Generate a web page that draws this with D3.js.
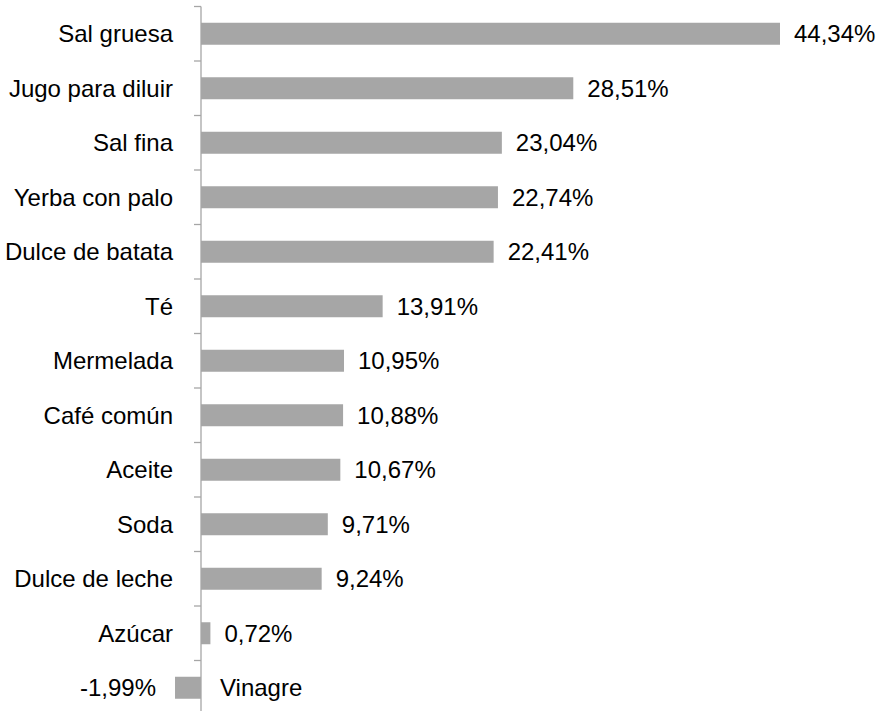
<!DOCTYPE html>
<html lang="es">
    <head>
        <meta charset="utf-8">
        <title>Variación de precios</title>
        <script type="text/javascript" src="https://d3js.org/d3.v7.min.js"></script>
        <style type="text/css">
            body { margin: 0; background: #fff; }
            text { font-family: "Liberation Sans", Arial, sans-serif; font-size: 24px; fill: #000; }
        </style>
    </head>
    <body>
        <div id="chart"></div>
        <script type="text/javascript">

            // productos y variación (%)
            var productos = ["Sal gruesa", "Jugo para diluir", "Sal fina", "Yerba con palo", "Dulce de batata",
                "Té", "Mermelada", "Café común", "Aceite", "Soda", "Dulce de leche", "Azúcar", "Vinagre"];
            var variacion = [44.34, 28.51, 23.04, 22.74, 22.41, 13.91, 10.95, 10.88, 10.67, 9.71, 9.24, 0.72, -1.99];

            var data = productos.map(function(p, i) { return { name: p, value: variacion[i] }; });

            var width = 886, height = 711;

            var svg = d3.select("#chart")
                .append("svg")
                    .attr("width", width)
                    .attr("height", height);

            // X scale: 0 sits on the axis line
            var x = d3.scaleLinear()
                .domain([0, 44.34])
                .range([201, 780]);

            // Y bands
            var y = d3.scaleBand()
                .domain(productos)
                .range([6.5, 6.5 + 54.5 * productos.length])
                .paddingInner(0.6)
                .paddingOuter(0.3);

            var fmt = function(v) { return d3.format(".2f")(v).replace(".", ",").replace("−", "-") + "%"; };

            // bars
            svg.selectAll("rect.bar")
                .data(data)
                .enter().append("rect")
                    .attr("class", "bar")
                    .attr("x", function(d) { return x(Math.min(0, d.value)); })
                    .attr("y", function(d) { return y(d.name) + y.bandwidth() / 2 - 11; })
                    .attr("width", function(d) { return Math.abs(x(d.value) - x(0)); })
                    .attr("height", 22)
                    .attr("fill", "#a6a6a6");

            // vertical axis with tick marks between categories
            var axis = svg.append("g").attr("stroke", "#a6a6a6").attr("stroke-width", 1.3);
            var step = y.step();
            axis.append("line")
                .attr("x1", x(0)).attr("x2", x(0))
                .attr("y1", 6.5).attr("y2", height);
            axis.selectAll("line.tick")
                .data(d3.range(productos.length + 1))
                .enter().append("line")
                    .attr("class", "tick")
                    .attr("x1", x(0) - 7).attr("x2", x(0))
                    .attr("y1", function(i) { return 6.5 + i * step; })
                    .attr("y2", function(i) { return 6.5 + i * step; });

            // category labels
            svg.selectAll("text.cat")
                .data(data)
                .enter().append("text")
                    .attr("class", "cat")
                    .attr("x", function(d) { return d.value < 0 ? x(0) + 19 : x(0) - 28; })
                    .attr("y", function(d) { return y(d.name) + y.bandwidth() / 2; })
                    .attr("dy", "0.35em")
                    .attr("text-anchor", function(d) { return d.value < 0 ? "start" : "end"; })
                    .text(function(d) { return d.name; });

            // value labels
            svg.selectAll("text.val")
                .data(data)
                .enter().append("text")
                    .attr("class", "val")
                    .attr("x", function(d) { return d.value < 0 ? x(d.value) - 19 : x(d.value) + 14; })
                    .attr("y", function(d) { return y(d.name) + y.bandwidth() / 2; })
                    .attr("dy", "0.35em")
                    .attr("text-anchor", function(d) { return d.value < 0 ? "end" : "start"; })
                    .text(function(d) { return fmt(d.value); });
        </script>
    </body>
</html>
